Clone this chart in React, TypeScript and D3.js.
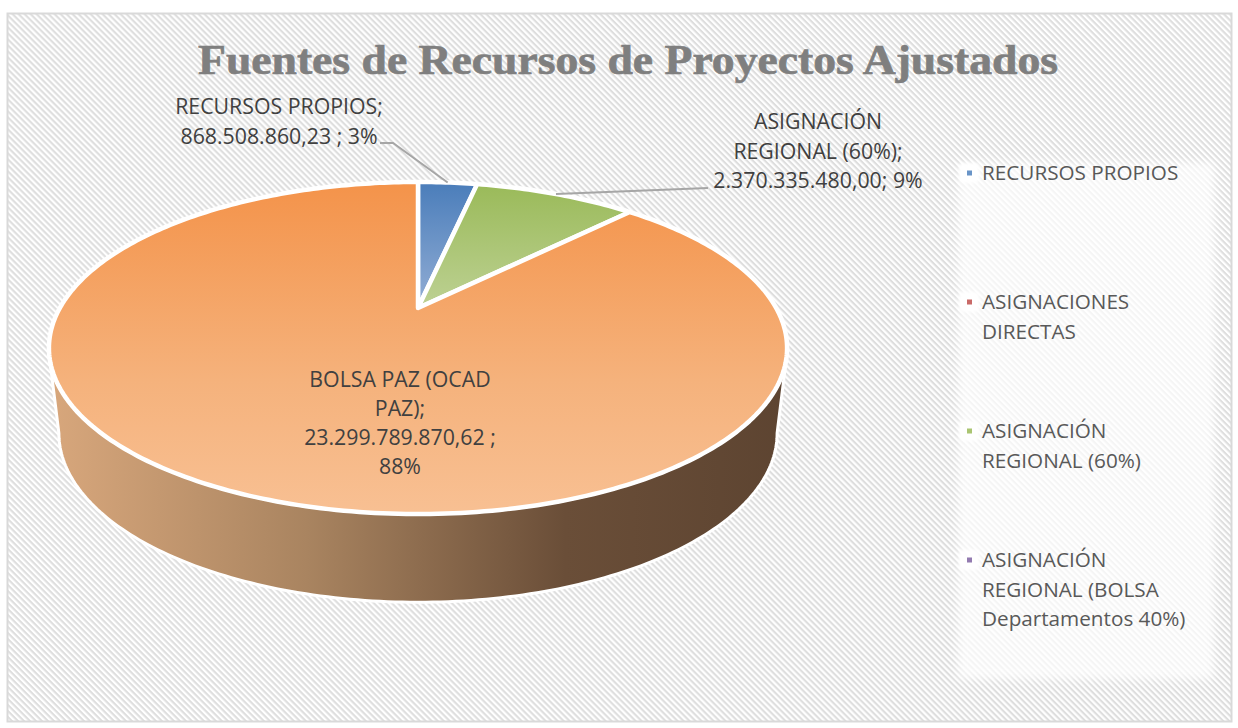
import React from 'react';
import * as d3 from 'd3';

const categories = [
  'RECURSOS PROPIOS',
  'ASIGNACIONES DIRECTAS',
  'ASIGNACIÓN REGIONAL (60%)',
  'ASIGNACIÓN REGIONAL (BOLSA Departamentos 40%)',
  'BOLSA PAZ (OCAD PAZ)',
];
const values = [868508860.23, 0, 2370335480.0, 0, 23299789870.62];

const legendLines = [
  ['RECURSOS PROPIOS'],
  ['ASIGNACIONES', 'DIRECTAS'],
  ['ASIGNACIÓN', 'REGIONAL (60%)'],
  ['ASIGNACIÓN', 'REGIONAL (BOLSA', 'Departamentos 40%)'],
];
const legendKeyColors = ['#4f81bd', '#c0504d', '#9bbb59', '#8064a2'];

const title = 'Fuentes de Recursos de Proyectos Ajustados';

const WIDTH = 1238;
const HEIGHT = 728;
const FONT = "'Open Sans'";

// perspective of the pie: the centre of the disc sits above the centre of the ellipse
const apex = { x: 418, y: 308 };
const tilt = 0.241;
const spreadX = 358.2;
const spreadY = 156.4;

function project(angle: number, scaleX = 1, scaleY = 1, dy = 0): [number, number] {
  const u = Math.sin(angle);
  const v = Math.cos(angle);
  const w = 1 + tilt * v;
  return [apex.x + (spreadX * scaleX * u) / w, apex.y + dy - (spreadY * scaleY * v) / w];
}

const line = d3.line();

function slicePath(a0: number, a1: number) {
  const n = Math.max(4, Math.ceil((a1 - a0) * 60));
  const rim = d3.range(n + 1).map(i => project(a0 + ((a1 - a0) * i) / n));
  return line([[apex.x, apex.y], ...rim]) + 'Z';
}

function sweep(a0: number, a1: number, n: number) {
  return d3.range(n + 1).map(i => a0 + ((a1 - a0) * i) / n);
}

// front wall of the cylinder: rim of the top disc down to the rim of the base,
// the top end is hidden behind the disc so only a sliver of the side shows
function wallPath() {
  const top = sweep(Math.PI / 2 + 0.3, (3 * Math.PI) / 2 - 0.3, 160).map(a => project(a));
  const base = sweep((3 * Math.PI) / 2 - 0.243, Math.PI / 2 + 0.243, 160).map(a =>
    project(a, 0.973, 1.018, 84.5),
  );
  return line([...top, ...base]) + 'Z';
}

const Label = ({ lines, x, y, lh = 29.5 }: { lines: string[]; x: number; y: number; lh?: number }) => (
  <text x={x} y={y} textAnchor="middle" fontFamily={FONT} fontSize={21.3} fill="#404040">
    {lines.map((l, i) => (
      <tspan key={i} x={x} y={y + i * lh}>
        {l}
      </tspan>
    ))}
  </text>
);

export default function App() {
  const pie = d3.pie<number>().sort(null)(values);
  const slices = pie.filter(d => d.value > 0);
  const [blue, green] = [pie[0], pie[2]];
  const mid = (d: d3.PieArcDatum<number>) => (d.startAngle + d.endAngle) / 2;
  const fills = ['url(#gBlue)', 'url(#gGreen)', 'url(#gOrange)'];
  const blueTip = project(mid(blue));
  const greenTip = project(mid(green));

  return (
    <svg
      width={WIDTH}
      height={HEIGHT}
      style={{ position: 'absolute', left: 0, top: 0, display: 'block', background: '#fff' }}
    >
      <defs>
        <pattern id="hatch" width="4.24" height="4.24" patternUnits="userSpaceOnUse" patternTransform="rotate(45)">
          <rect width="4.24" height="4.24" fill="#fff" />
          <rect width="4.24" height="2.1" fill="#dedede" />
        </pattern>
        <linearGradient id="gBlue" x1="0" y1="0" x2="0" y2="1">
          <stop offset="0" stopColor="#4a7dba" />
          <stop offset="1" stopColor="#93aed5" />
        </linearGradient>
        <linearGradient id="gGreen" x1="0" y1="0" x2="0" y2="1">
          <stop offset="0" stopColor="#9aba59" />
          <stop offset="1" stopColor="#bdd193" />
        </linearGradient>
        <linearGradient id="gOrange" x1="0" y1="0" x2="0" y2="1">
          <stop offset="0" stopColor="#f4934a" />
          <stop offset="0.6" stopColor="#f5b27c" />
          <stop offset="1" stopColor="#f8c093" />
        </linearGradient>
        <linearGradient id="gWall" x1="0" y1="0" x2="1" y2="0">
          <stop offset="0" stopColor="#d8a77c" />
          <stop offset="0.35" stopColor="#a98460" />
          <stop offset="0.7" stopColor="#6a4e38" />
          <stop offset="1" stopColor="#5d4431" />
        </linearGradient>
        <filter id="soft" x="-20%" y="-20%" width="140%" height="140%">
          <feGaussianBlur stdDeviation="4" />
        </filter>
        <filter id="softKey" x="-50%" y="-50%" width="200%" height="200%">
          <feGaussianBlur stdDeviation="1.5" />
        </filter>
      </defs>

      <rect x={7.5} y={13.5} width={1224} height={708} fill="url(#hatch)" stroke="#d9d9d9" strokeWidth={2} />

      <text
        x={628}
        y={74}
        textAnchor="middle"
        fontFamily="'Liberation Serif'"
        fontWeight="bold"
        fontSize={43}
        fill="#7f7f7f"
        stroke="#7f7f7f"
        strokeWidth={0.7}
        textLength={860}
        lengthAdjust="spacingAndGlyphs"
      >
        {title}
      </text>

      {/* wall */}
      <path d={wallPath()} fill="url(#gWall)" stroke="#fff" strokeWidth={3} strokeLinejoin="round" />

      {/* top disc */}
      {slices.map((d, i) => (
        <path
          key={categories[d.index]}
          d={slicePath(d.startAngle, d.endAngle)}
          fill={fills[i]}
          stroke="#fff"
          strokeWidth={4.5}
          strokeLinejoin="round"
        />
      ))}

      {/* leader lines */}
      <path
        d={line([[380, 143], [393, 143], blueTip]) as string}
        fill="none"
        stroke="#a6a6a6"
        strokeWidth={2}
      />
      <path
        d={line([greenTip, [708, 188]]) as string}
        fill="none"
        stroke="#a6a6a6"
        strokeWidth={2}
      />

      {/* data labels */}
      <Label lines={['RECURSOS PROPIOS;', '868.508.860,23 ; 3%']} x={279} y={114} lh={30} />
      <Label lines={['ASIGNACIÓN', 'REGIONAL (60%);', '2.370.335.480,00; 9%']} x={818} y={129} lh={29.5} />
      <Label lines={['BOLSA PAZ (OCAD', 'PAZ);', '23.299.789.870,62 ;', '88%']} x={400} y={387} lh={29} />

      {/* legend */}
      <rect x={958} y={163} width={256} height={516} fill="#fff" opacity={0.72} filter="url(#soft)" />
      {legendLines.map((lines, i) => {
        const y = 173 + i * 129;
        return (
          <g key={i}>
            <rect x={959} y={y - 10} width={20} height={20} rx={4} fill="#fff" filter="url(#softKey)" />
            <rect x={967} y={y - 2.5} width={5} height={5} fill={legendKeyColors[i]} opacity={0.85} />
            <text fontFamily={FONT} fontSize={20.7} fill="#595959">
              {lines.map((l, j) => (
                <tspan key={j} x={982} y={y + 7 + j * 29.5}>
                  {l}
                </tspan>
              ))}
            </text>
          </g>
        );
      })}
    </svg>
  );
}
